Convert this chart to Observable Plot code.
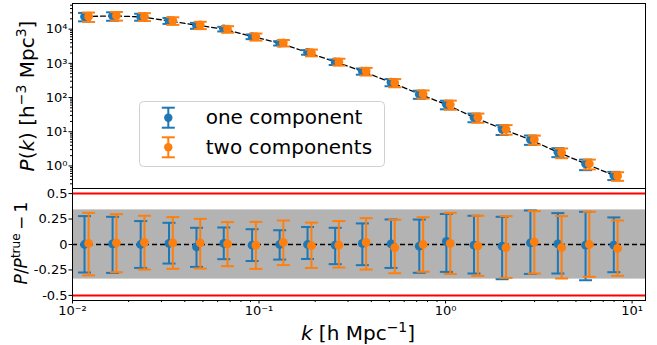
<!DOCTYPE html>
<html><head><meta charset="utf-8">
<script src="https://cdn.jsdelivr.net/npm/d3@7"></script>
<script src="https://cdn.jsdelivr.net/npm/@observablehq/plot@0.6"></script>
<style>
body{margin:0;background:#fff;}
#chart{position:relative;width:657px;height:345px;background:#fff;}
#chart svg{display:block;}
</style></head><body><div id="chart"></div>
<script>
// ---------- data ----------
const kBlue   = [0.0116, 0.0164, 0.0232, 0.0329, 0.0462, 0.0647, 0.0918, 0.129, 0.182, 0.256, 0.358, 0.510, 0.723, 1.01, 1.42, 2.01, 2.85, 4.00, 5.63, 7.98];
const kOrange = [0.0122, 0.0172, 0.0243, 0.0345, 0.0484, 0.0678, 0.0962, 0.135, 0.191, 0.268, 0.375, 0.534, 0.758, 1.06, 1.49, 2.11, 2.99, 4.19, 5.90, 8.36];
const pTrue   = [23300, 24400, 22900, 17500, 13100, 10000, 6080, 3900, 2080, 1110, 584, 278, 127, 62, 26.5, 12.2, 5.81, 2.53, 1.16, 0.53];

const blueMid = [0, 0.007, 0, 0.01, -0.023, 0.01, -0.007, 0, 0, -0.007, 0.01, 0.007, -0.016, 0.03, -0.007, -0.016, 0.016, 0.007, -0.007, -0.007];
const blueHi  = [0.279, 0.272, 0.23, 0.213, 0.164, 0.167, 0.15, 0.14, 0.172, 0.164, 0.207, 0.246, 0.245, 0.30, 0.282, 0.272, 0.334, 0.308, 0.321, 0.266];
const blueLo  = [-0.275, -0.279, -0.23, -0.187, -0.22, -0.144, -0.162, -0.148, -0.142, -0.193, -0.203, -0.23, -0.278, -0.269, -0.285, -0.341, -0.289, -0.285, -0.351, -0.272];

const orangeMid = [0.01, 0.016, 0.02, 0.016, 0.016, 0.007, -0.007, 0.02, -0.012, -0.007, 0.02, -0.03, 0, 0.01, -0.013, -0.03, 0.026, -0.03, 0, -0.039];
const orangeHi  = [0.311, 0.298, 0.282, 0.269, 0.252, 0.22, 0.222, 0.236, 0.215, 0.23, 0.259, 0.243, 0.268, 0.31, 0.282, 0.279, 0.328, 0.279, 0.321, 0.236];
const orangeLo  = [-0.303, -0.272, -0.246, -0.239, -0.236, -0.213, -0.24, -0.202, -0.23, -0.226, -0.246, -0.282, -0.268, -0.29, -0.308, -0.328, -0.285, -0.334, -0.318, -0.308];

const seriesNames = ["one component", "two components"];
const seriesColors = ["#1f77b4", "#ff7f0e"];
const bandHalf = 0.34;
const redLines = [0.5, -0.5];

const xDomain = [0.01, 11.8];
const yTopDomain = [0.219, 56200];
const yBotDomain = [-0.55, 0.55];
const xMajor = [0.01, 0.1, 1, 10];
const yTopMajor = [1, 10, 100, 1000, 10000];
const yBotTicks = [-0.5, -0.25, 0, 0.25, 0.5];
const yBotLabels = ["-0.5", "-0.25", "0", "0.25", "0.5"];
const minorMult = [2, 3, 4, 5, 6, 7, 8, 9];
const xDecades = [0.01, 0.1, 1];
const yDecades = [0.1, 1, 10, 100, 1000, 10000];

// ---------- helpers ----------
const supMap = {"-": "\u207B", "0": "\u2070", "1": "\u00B9", "2": "\u00B2", "3": "\u00B3", "4": "\u2074", "5": "\u2075", "6": "\u2076", "7": "\u2077", "8": "\u2078", "9": "\u2079"};
const pow10Label = v => "10" + String(Math.round(Math.log10(v))).split("").map(c => supMap[c]).join("");
const xMinor = xDecades.flatMap(d => minorMult.map(m => m * d)).filter(v => v > xDomain[0] && v < xDomain[1]);
const yTopMinor = yDecades.flatMap(d => minorMult.map(m => m * d)).filter(v => v > yTopDomain[0] && v < yTopDomain[1]);

const cap = {draw(ctx) { ctx.moveTo(-6.5, 0); ctx.lineTo(6.5, 0); }};

const botBlue = kBlue.map((k, i) => ({k, mid: blueMid[i], lo: blueLo[i], hi: blueHi[i]}));
const botOrange = kOrange.map((k, i) => ({k, mid: orangeMid[i], lo: orangeLo[i], hi: orangeHi[i]}));
const topBlue = botBlue.map((d, i) => ({k: d.k, mid: pTrue[i] * (1 + d.mid), lo: pTrue[i] * (1 + d.lo), hi: pTrue[i] * (1 + d.hi)}));
const topOrange = botOrange.map((d, i) => ({k: d.k, mid: pTrue[i] * (1 + d.mid), lo: pTrue[i] * (1 + d.lo), hi: pTrue[i] * (1 + d.hi)}));
const truth = kBlue.map((k, i) => ({k, p: pTrue[i]}));

function errMarks(data, color) {
  return [
    Plot.ruleX(data, {x: "k", y1: "lo", y2: "hi", stroke: color, strokeWidth: 2}),
    Plot.dot(data, {x: "k", y: "lo", symbol: cap, stroke: color, strokeWidth: 2, fill: "none"}),
    Plot.dot(data, {x: "k", y: "hi", symbol: cap, stroke: color, strokeWidth: 2, fill: "none"}),
    Plot.dot(data, {x: "k", y: "mid", r: 4.4, fill: color, stroke: "none"})
  ];
}

const style = {fontFamily: "DejaVu Sans", fontSize: "13px", color: "black", background: "white", overflow: "visible"};
const TF = 13;

const topPlot = Plot.plot({
  width: 657, height: 188, marginTop: 3, marginBottom: 0, marginLeft: 72, marginRight: 12,
  style,
  x: {type: "log", domain: xDomain, axis: null, label: null},
  y: {type: "log", domain: yTopDomain, axis: null, label: null},
  marks: [
    Plot.line(truth, {x: "k", y: "p", stroke: "black", strokeWidth: 1.3, strokeDasharray: "5,3"}),
    ...errMarks(topBlue, seriesColors[0]),
    ...errMarks(topOrange, seriesColors[1]),
    Plot.axisY(yTopMinor, {tickFormat: () => "", tickSize: 2, label: null}),
    Plot.axisY(yTopMajor, {tickFormat: pow10Label, tickSize: 3.5, tickPadding: 1.5, label: null, fontSize: TF}),
    Plot.frame({stroke: "black", strokeWidth: 1})
  ]
});

const botPlot = Plot.plot({
  width: 657, height: 157, marginTop: 0, marginBottom: 45, marginLeft: 72, marginRight: 12,
  style,
  x: {type: "log", domain: xDomain, axis: null, label: null},
  y: {domain: yBotDomain, axis: null, label: null},
  marks: [
    Plot.rect([bandHalf], {y1: d => -d, y2: d => d, fill: "#b3b3b3"}),
    Plot.ruleY(redLines, {stroke: "#ff0000", strokeWidth: 2}),
    Plot.ruleY([0], {stroke: "black", strokeWidth: 1.3, strokeDasharray: "5,3"}),
    ...errMarks(botBlue, seriesColors[0]),
    ...errMarks(botOrange, seriesColors[1]),
    Plot.axisX(xMinor, {tickFormat: () => "", tickSize: 2, label: null}),
    Plot.axisX(xMajor, {tickFormat: pow10Label, tickSize: 3.5, tickPadding: 2, label: null, fontSize: TF}),
    Plot.axisY(yBotTicks, {tickFormat: d => yBotLabels[yBotTicks.indexOf(d)], tickSize: 3.5, tickPadding: 1.5, label: null, fontSize: TF}),
    Plot.frame({stroke: "black", strokeWidth: 1})
  ]
});

const chart = document.getElementById("chart");
chart.appendChild(topPlot);
chart.appendChild(botPlot);

// ---------- axis labels ----------
function richText(g, parts, size, supScale = 0.7) {
  const t = g.append("text").attr("font-family", "DejaVu Sans").attr("font-size", size).attr("fill", "black");
  let shift = 0;
  for (const p of parts) {
    const ts = t.append("tspan").text(p.t);
    if (p.i) ts.attr("font-style", "italic");
    const want = p.sup ? -Math.round(size * 0.42) : 0;
    if (want !== shift) { ts.attr("dy", want - shift); shift = want; }
    if (p.sup) ts.attr("font-size", Math.round(size * supScale));
  }
  return t;
}
const topSvg = d3.select(topPlot);
const botSvg = d3.select(botPlot);

richText(topSvg.append("g").attr("transform", "translate(34,96) rotate(-90)"),
  [{t: "P", i: 1}, {t: "("}, {t: "k", i: 1}, {t: ") [h"}, {t: "\u22123", sup: 1}, {t: " Mpc"}, {t: "3", sup: 1}, {t: "]"}], 20)
  .attr("text-anchor", "middle");

richText(botSvg.append("g").attr("transform", "translate(27,55) rotate(-90)"),
  [{t: "P", i: 1}, {t: "/"}, {t: "P", i: 1}, {t: "true", sup: 1}, {t: "\u2009\u2212\u20091"}], 17, 0.68)
  .attr("text-anchor", "middle");

richText(botSvg.append("g").attr("transform", "translate(358,152)"),
  [{t: "k", i: 1}, {t: " [h Mpc"}, {t: "\u22121", sup: 1}, {t: "]"}], 20)
  .attr("text-anchor", "middle");

// ---------- legend ----------
const lg = topSvg.append("g");
lg.append("rect").attr("x", 139.5).attr("y", 101.5).attr("width", 245).attr("height", 65).attr("rx", 4)
  .attr("fill", "white").attr("fill-opacity", 0.8).attr("stroke", "#d0d0d0").attr("stroke-width", 1);
seriesNames.forEach((name, i) => {
  const cy = 117.7 + i * 29.6, cx = 168.3, c = seriesColors[i];
  lg.append("line").attr("x1", cx).attr("x2", cx).attr("y1", cy - 10).attr("y2", cy + 10).attr("stroke", c).attr("stroke-width", 2);
  lg.append("line").attr("x1", cx - 6.5).attr("x2", cx + 6.5).attr("y1", cy - 10).attr("y2", cy - 10).attr("stroke", c).attr("stroke-width", 2);
  lg.append("line").attr("x1", cx - 6.5).attr("x2", cx + 6.5).attr("y1", cy + 10).attr("y2", cy + 10).attr("stroke", c).attr("stroke-width", 2);
  lg.append("circle").attr("cx", cx).attr("cy", cy).attr("r", 4.2).attr("fill", c);
  lg.append("text").attr("x", 205.7).attr("y", cy + 6.5).attr("text-anchor", "start").attr("font-family", "DejaVu Sans").attr("font-size", 20).attr("fill", "black").text(name);
});
</script>
</body></html>
